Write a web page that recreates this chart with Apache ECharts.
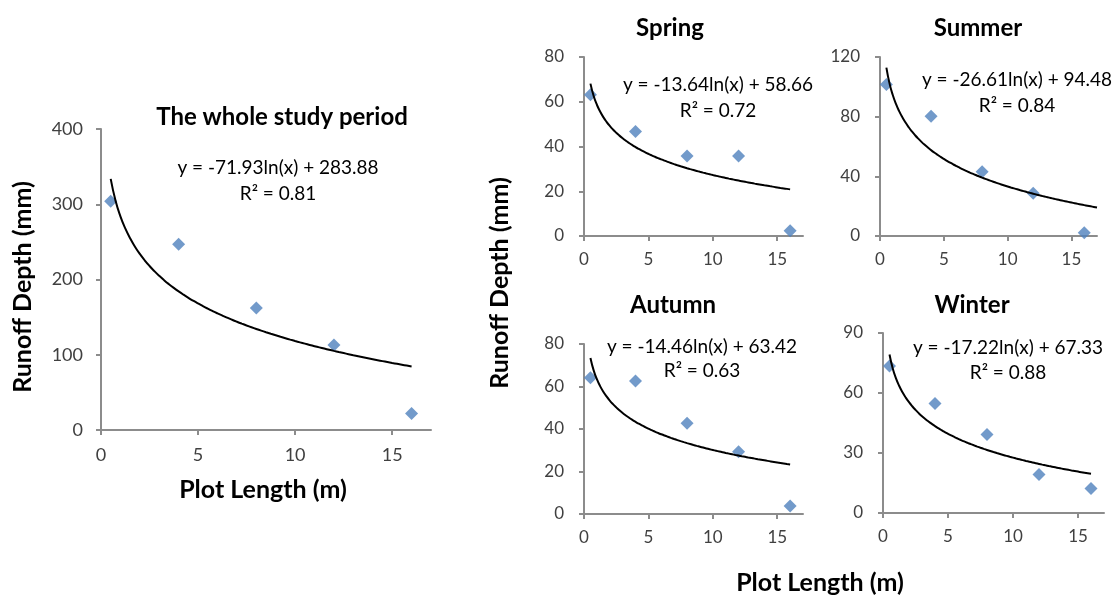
<!DOCTYPE html>
<html lang="en">
<head>
<meta charset="UTF-8">
<title>Runoff depth vs plot length</title>
<script src="https://cdn.jsdelivr.net/npm/echarts@6/dist/echarts.min.js"></script>
<style>
    *{
        margin: 0;
        padding: 0;
    }
    html,body{
        width: 100%;
        height: 100%;
        overflow: hidden;
        background: #fff;
    }
    .container{
        width: 1118px;
        height: 601px;
    }
</style>
</head>
<body>
<div class="container"></div>
<script>
    // values
    const plotLength = [0.5, 4, 8, 12, 16];
    const panelNames = ['The whole study period', 'Spring', 'Summer', 'Autumn', 'Winter'];
    const wholePeriod = [304, 247, 162, 113, 22];
    const spring = [63.1, 46.7, 35.8, 35.8, 2.4];
    const summer = [101.5, 80.3, 43, 28.6, 2.2];
    const autumn = [64.1, 62.6, 42.7, 29.3, 3.8];
    const winter = [73.5, 54.7, 39.3, 19.3, 12.2];
    // log trend lines y = a ln(x) + b, as printed on the chart
    const slopeA = [-71.93, -13.64, -26.61, -14.46, -17.22];
    const interceptB = [283.88, 58.66, 94.48, 63.42, 67.33];
    const rSquared = ['0.81', '0.72', '0.84', '0.63', '0.88'];
    const trendEnd = [16, 16, 17, 16, 16];
    const yMax = [400, 80, 120, 80, 90];
    const yStep = [100, 20, 40, 20, 30];
    const xTicks = [0, 5, 10, 15];

    const seriesValues = [wholePeriod, spring, summer, autumn, winter];

    // layout of the five plot areas
    const grids = [
        {left: 101, top: 129, width: 330, height: 301},
        {left: 584, top: 57, width: 219, height: 179},
        {left: 880, top: 57, width: 217, height: 179},
        {left: 584, top: 344, width: 219, height: 170},
        {left: 883, top: 333, width: 221, height: 180}
    ];
    const titlePos = [[277, 112], [665, 23], [973, 23], [668, 300], [967, 300]];
    const eqPos = [[278, 168, 194], [718, 85, 111], [1017, 80, 106], [702, 347, 371], [1008, 348, 373]];

    const font = 'Lato, "Open Sans", sans-serif';
    const axisColor = '#8c8c8c';
    let container = document.querySelector('.container');
    let mycharts = echarts.init(container);

    let xAxis = [], yAxis = [], series = [], title = [], graphic = [];

    panelNames.forEach((name, i) => {
        let big = i === 0;
        let lblSize = big ? 18 : 17;
        xAxis.push({
            type: 'value', gridIndex: i, min: 0, max: 17,
            axisLine: {lineStyle: {color: axisColor, width: 2}},
            axisTick: {show: true, length: 5, customValues: xTicks, lineStyle: {color: axisColor, width: 2}},
            axisLabel: {customValues: xTicks, color: '#404040', fontSize: lblSize, fontFamily: font, margin: big ? 16 : 15},
            splitLine: {show: false}
        });
        yAxis.push({
            type: 'value', gridIndex: i, min: 0, max: yMax[i], interval: yStep[i],
            axisLine: {show: true, lineStyle: {color: axisColor, width: 2}},
            axisTick: {show: true, length: 5, lineStyle: {color: axisColor, width: 2}},
            axisLabel: {color: '#404040', fontSize: lblSize, fontFamily: font, margin: big ? 18 : 20},
            splitLine: {show: false}
        });

        let trend = [];
        for (let x = 0.5; x <= trendEnd[i] + 1e-9; x += 0.25) {
            trend.push([x, slopeA[i] * Math.log(x) + interceptB[i]]);
        }
        series.push({
            type: 'line', xAxisIndex: i, yAxisIndex: i, data: trend,
            showSymbol: false, smooth: true, silent: true,
            lineStyle: {color: '#000', width: 2}
        });
        series.push({
            type: 'scatter', xAxisIndex: i, yAxisIndex: i,
            data: plotLength.map((x, k) => [x, seriesValues[i][k]]),
            symbol: 'diamond', symbolSize: [13, 13],
            itemStyle: {color: '#4f81bd'}
        });

        title.push({
            text: name, left: titlePos[i][0], top: titlePos[i][1],
            textAlign: 'center', textVerticalAlign: 'middle',
            textStyle: {fontFamily: font, fontWeight: 'bold', fontSize: 24, color: '#000'}
        });

        let a = slopeA[i].toFixed(2), b = interceptB[i].toFixed(2);
        graphic.push({
            type: 'text', x: eqPos[i][0], y: eqPos[i][1],
            style: {text: 'y = ' + a + 'ln(x) + ' + b, align: 'center', verticalAlign: 'middle',
                fill: '#000', font: '19px ' + font}
        });
        graphic.push({
            type: 'text', x: eqPos[i][0], y: eqPos[i][2],
            style: {text: 'R² = ' + rSquared[i], align: 'center', verticalAlign: 'middle',
                fill: '#000', font: '19px ' + font}
        });
    });

    // axis names
    const nameFont = 'bold 25px ' + font;
    graphic.push({type: 'text', x: 23, y: 287, rotation: Math.PI / 2,
        style: {text: 'Runoff Depth (mm)', align: 'center', verticalAlign: 'middle', fill: '#000', font: nameFont}});
    graphic.push({type: 'text', x: 263, y: 490,
        style: {text: 'Plot Length (m)', align: 'center', verticalAlign: 'middle', fill: '#000', font: nameFont}});
    graphic.push({type: 'text', x: 500, y: 283, rotation: Math.PI / 2,
        style: {text: 'Runoff Depth (mm)', align: 'center', verticalAlign: 'middle', fill: '#000', font: nameFont}});
    graphic.push({type: 'text', x: 820, y: 583,
        style: {text: 'Plot Length (m)', align: 'center', verticalAlign: 'middle', fill: '#000', font: nameFont}});

    let options = {
        animation: false,
        backgroundColor: '#fff',
        title,
        grid: grids,
        xAxis,
        yAxis,
        series,
        graphic
    };
    mycharts.setOption(options);
</script>
</body>
</html>
